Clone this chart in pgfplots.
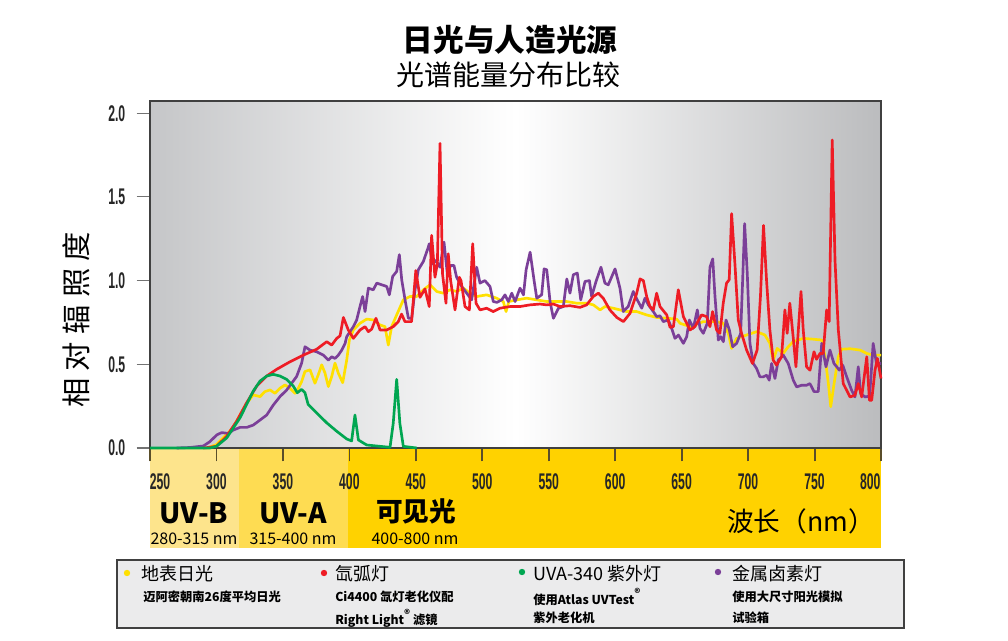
\documentclass[border=0pt]{standalone}
\usepackage{graphicx}
\usepackage{pgfplots}
\pgfplotsset{compat=1.18}
\usepackage{fontspec}
\setmainfont{Noto Sans CJK SC}
\newfontfamily\numfont{Liberation Sans}

\definecolor{bgL}{HTML}{C5C6C8}
\definecolor{bgR}{HTML}{BBBCBE}
\definecolor{uvb}{HTML}{FDE48C}
\definecolor{uva}{HTML}{FEDC52}
\definecolor{vis}{HTML}{FFD200}
\definecolor{legbg}{HTML}{EBEBEC}
\definecolor{cY}{HTML}{FFE000}
\definecolor{cR}{HTML}{EE1C25}
\definecolor{cG}{HTML}{00A651}
\definecolor{cP}{HTML}{7B3F98}
\definecolor{tickc}{HTML}{5A4E2A}

% condensed tick numbers
\DeclareRobustCommand{\sn}[1]{\scalebox{0.54}[1]{\numfont\bfseries\fontsize{17}{17}\selectfont #1}}
\newcommand{\reg}{\raisebox{0.5em}{\fontsize{8.5}{9}\selectfont ®}}

\begin{document}
\begin{tikzpicture}
\useasboundingbox (0,0) rectangle (756pt,480pt);
% everything outside the axis in pixel units, y down
\begin{scope}[x=0.75pt, y=-0.75pt, yshift=480pt]
  \shade[left color=bgL, right color=bgR, middle color=white] (150,101) rectangle (881,448);
  \fill[uvb] (150,448) rectangle (239,548);
  \fill[uva] (239,448) rectangle (348,548);
  \fill[vis] (348,448) rectangle (881,548);
  % tick marks hanging into the yellow band
  \foreach \t in {216.5,283,349.5,416,482.5,549,615.5,682,748.5,815,881}
    \draw[tickc, line width=1.3pt] (\t,448) -- (\t,461);

  \node[font=\bfseries\fontsize{23}{23}\selectfont] at (510,40) {日光与人造光源};
  \node[font=\fontsize{21}{21}\selectfont] at (508,75) {光谱能量分布比较};
  \node[rotate=90, font=\fontsize{22}{22}\selectfont] at (76,320)
    {相\hspace{0.25em}对\hspace{0.25em}辐\hspace{0.25em}照\hspace{0.25em}度};

  \node[font=\bfseries\fontsize{21}{21}\selectfont] at (194,513) {UV-B};
  \node[font=\bfseries\fontsize{21}{21}\selectfont] at (293,513) {UV-A};
  \node[font=\bfseries\fontsize{20}{20}\selectfont] at (416,511) {可见光};
  \node[font=\fontsize{12}{12}\selectfont] at (194,539) {280-315 nm};
  \node[font=\fontsize{12}{12}\selectfont] at (293,539) {315-400 nm};
  \node[font=\fontsize{12}{12}\selectfont] at (415,539) {400-800 nm};
  \node[font=\fontsize{20}{20}\selectfont] at (801,521) {波长（nm）};

  % legend
  \draw[draw=black!75, line width=1.4pt, fill=legbg] (117,560) rectangle (904,628);
  \fill[cY] (127,573) circle (2.4pt);
  \fill[cR] (324,573) circle (2.4pt);
  \fill[cG] (522,572) circle (2.4pt);
  \fill[cP] (718,572) circle (2.4pt);
  \begin{scope}[every node/.style={anchor=west, inner sep=0pt}]
    \node[font=\fontsize{13.5}{14}\selectfont] at (141,574) {地表日光};
    \node[font=\bfseries\fontsize{9.2}{10}\selectfont] at (143,597) {迈阿密朝南26度平均日光};
    \node[font=\fontsize{13.5}{14}\selectfont] at (335,574) {氙弧灯};
    \node[font=\bfseries\fontsize{9.2}{10}\selectfont] at (335,597) {Ci4400 氙灯老化仪配};
    \node[font=\bfseries\fontsize{9.2}{10}\selectfont] at (335,618) {Right Light\reg{} 滤镜};
    \node[font=\fontsize{13.5}{14}\selectfont] at (533,574) {UVA-340 紫外灯};
    \node[font=\bfseries\fontsize{9.2}{10}\selectfont] at (533,597) {使用Atlas UVTest\reg};
    \node[font=\bfseries\fontsize{9.2}{10}\selectfont] at (533,618) {紫外老化机};
    \node[font=\fontsize{13.5}{14}\selectfont] at (732,574) {金属卤素灯};
    \node[font=\bfseries\fontsize{9.2}{10}\selectfont] at (732,597) {使用大尺寸阳光模拟};
    \node[font=\bfseries\fontsize{9.2}{10}\selectfont] at (732,618) {试验箱};
  \end{scope}
\end{scope}

\begin{axis}[
    at={(112.5pt,144pt)}, anchor=south west,
    scale only axis, width=548.25pt, height=260.25pt,
    xmin=250, xmax=800, ymin=0, ymax=2.073,
    clip=false,
    axis line style={draw=black!75, line width=0.8pt},
    tick pos=left, tick align=outside, major tick length=10pt,
    xtick={250,300,...,800},
    xticklabels={\hspace*{15pt}\sn{250},\sn{300},\sn{350},\sn{400},\sn{450},\sn{500},\sn{550},\sn{600},\sn{650},\sn{700},\sn{750},\sn{800}\hspace*{16pt}},
    ytick={0,0.5,1,1.5,2},
    yticklabels={\sn{0.0},\sn{0.5},\sn{1.0},\sn{1.5},\sn{2.0}},
    xtick style={draw=tickc, line width=1.2pt},
    ytick style={draw=black!55, line width=0.8pt},
    xticklabel style={yshift=-6pt, text=black!85},
    yticklabel style={xshift=-5pt, text=black!85},
    every axis plot/.append style={line width=2pt, line join=round},
]
% daylight
\addplot[cY] coordinates {
(293,0)(300,0.02)(305,0.06)(310,0.10)(313,0.13)(317.7,0.197)(322.7,0.267)(327.7,0.317)
(332.8,0.307)(336.5,0.337)(340.3,0.347)(344,0.327)(347.8,0.357)(351.6,0.377)(355.3,0.357)
(359.1,0.327)(361.6,0.357)(364.1,0.397)(366.6,0.457)(370.4,0.467)(374.1,0.387)(376.6,0.437)
(379.2,0.497)(381.7,0.447)(384.2,0.367)(386.7,0.427)(389.2,0.507)(391.7,0.447)(395,0.39)
(398,0.525)(400,0.645)(403,0.705)(408,0.745)(413,0.77)(418,0.765)(423.1,0.735)(426.8,0.725)
(429.3,0.615)(431.8,0.725)(435.6,0.795)(440.6,0.885)(445.6,0.905)(450.7,0.905)(455.7,0.945)
(460.7,0.975)(465.7,0.935)(470.7,0.925)(475.7,0.945)(480.8,0.935)(485.8,0.955)(490.8,0.925)
(495.8,0.905)(503.3,0.915)(510.8,0.895)(515.8,0.875)(517.9,0.815)(520,0.875)(525.9,0.885)
(533.4,0.895)(541,0.885)(548.5,0.875)(556,0.875)(563.5,0.875)(571.1,0.865)(578.6,0.865)
(583.6,0.855)(588.6,0.825)(592.3,0.845)(598.6,0.835)(603.6,0.825)(608.7,0.815)(616.2,0.815)
(623.7,0.795)(631.2,0.78)(638.8,0.775)(646.3,0.77)(648.8,0.745)(656.3,0.725)(666.3,0.755)
(676.3,0.755)(681.3,0.745)(685.1,0.685)(687.6,0.595)(691.4,0.655)(698.9,0.675)(706.4,0.695)
(712.7,0.675)(716.4,0.625)(718.9,0.525)(721.9,0.595)(726.4,0.565)(730.2,0.605)(733.9,0.635)
(741.5,0.655)(749,0.65)(755.4,0.645)(757.9,0.545)(760.4,0.385)(762.2,0.247)(764.7,0.385)
(767.9,0.545)(770.4,0.59)(776.7,0.593)(784.2,0.585)(789.2,0.565)(794.2,0.555)(800,0.555)
};
% metal halide
\addplot[cP] coordinates {
(270,0)(280,0.003)(290.1,0.012)(295.1,0.038)(300.2,0.078)(303.9,0.092)(308.9,0.087)
(312.6,0.107)(317.7,0.123)(322.7,0.123)(327.7,0.137)(332.8,0.167)(337.8,0.197)(342.8,0.257)
(347.8,0.307)(352.9,0.347)(356.6,0.387)(360.3,0.427)(364.1,0.507)(366.6,0.605)(370.4,0.585)
(375.4,0.575)(380.4,0.555)(384.2,0.525)(386.7,0.545)(389.2,0.535)(391.7,0.555)(394.3,0.585)
(396.8,0.625)(398,0.665)(403,0.725)(405.5,0.765)(408,0.845)(410,0.905)(411.8,0.815)
(414.3,0.955)(418,0.945)(420.6,0.985)(424.3,0.975)(428.1,0.965)(430.1,0.915)(432.6,1.025)
(435.6,1.055)(437.6,1.155)(439.4,1.005)(441.9,0.885)(444.4,0.775)(446.9,0.775)(449.4,0.945)
(451.9,1.065)(455.7,1.115)(459.4,1.20)(460.1,1.22)(462.6,1.10)(465.1,1.12)(468.2,1.08)
(471.2,1.23)(473.7,1.04)(476.2,1.09)(478.7,1.09)(480.7,1.02)(484.5,0.965)(488.3,0.925)
(492,0.885)(495.8,1.08)(498.3,0.985)(502,1.00)(505.8,0.965)(508.3,0.875)(511,0.87)
(514.6,0.885)(517.1,0.915)(519.6,0.875)(522.2,0.925)(524.7,0.875)(528.4,0.955)(531,0.915)
(533,1.065)(536,1.17)(539,1.00)(541,0.895)(544.7,0.915)(546.5,1.07)(548.5,1.065)(551,0.875)
(553.5,0.775)(557.3,0.835)(561,0.845)(563.6,1.01)(566,0.925)(568.5,1.035)(571.5,1.045)
(574.1,0.885)(577.3,0.995)(580.6,1.00)(582.3,0.905)(585.6,0.995)(589.3,1.08)(592.3,0.985)
(594.8,0.975)(599.9,1.07)(603.6,0.955)(606.1,0.815)(609.8,0.845)(613.6,0.935)(616.6,0.885)
(620,0.835)(622.4,0.895)(625,0.855)(628.7,0.815)(631.2,0.785)(633.7,0.79)(636.2,0.755)
(640,0.765)(642.5,0.715)(645,0.655)(647.6,0.675)(651.3,0.625)(653.8,0.665)(655.8,0.765)
(658.8,0.715)(661.8,0.825)(663.8,0.715)(666.3,0.685)(669.3,0.745)(671.3,1.08)(673.4,1.13)
(675.1,0.905)(677.6,0.645)(679.4,0.665)(681.4,0.635)(683.4,0.765)(685.9,0.705)(688.4,0.605)
(691.4,0.625)(694.4,0.685)(695.9,1.00)(697.4,1.34)(699.4,1.04)(701.4,0.625)(703.9,0.505)
(706.4,0.475)(708.9,0.425)(711.4,0.425)(714,0.435)(715.9,0.405)(717.7,0.505)(720.2,0.415)
(722.7,0.525)(726.5,0.555)(730.2,0.505)(734,0.405)(736.5,0.365)(740.3,0.375)(744,0.375)
(746.5,0.385)(749.6,0.337)(752.8,0.337)(755.4,0.625)(758.6,0.485)(761.6,0.585)(764.6,0.505)
(766.7,0.485)(768.6,0.465)(771.2,0.495)(774.2,0.425)(777.9,0.345)(780.4,0.305)(782.9,0.485)
(784.7,0.325)(788,0.305)(791.3,0.31)(792.3,0.405)(794.1,0.625)(796.6,0.505)(800,0.505)
};
% xenon arc
\addplot[cR] coordinates {
(290,0)(292.6,0.002)(300,0.01)(307.7,0.07)(315.2,0.16)(322.7,0.27)(330.3,0.37)(337.8,0.43)
(345.3,0.47)(355.3,0.515)(365.4,0.555)(375.4,0.59)(380.4,0.62)(383,0.635)(386.7,0.615)
(390.5,0.655)(393,0.67)(395.5,0.78)(399.2,0.705)(403,0.655)(408,0.705)(411.8,0.725)
(414.3,0.695)(416.8,0.71)(420,0.775)(423.1,0.705)(428.1,0.705)(433,0.725)(436.8,0.755)
(439.3,0.80)(441.8,0.755)(446.8,0.755)(450,1.06)(453.1,0.90)(456.9,0.95)(460.1,0.845)
(461.9,1.27)(464.4,1.02)(466.2,1.10)(468.2,1.82)(470.1,1.04)(472.7,0.865)(474.4,1.16)
(476.2,1.00)(479.5,0.825)(482.7,1.02)(484,1.0)(487,0.845)(490.3,0.825)(492.8,1.22)
(495.3,0.865)(498.3,0.825)(503.3,0.835)(508.3,0.815)(513.3,0.835)(520.9,0.845)(528.4,0.845)
(535.9,0.855)(543.4,0.86)(548.5,0.855)(553.5,0.86)(558.5,0.845)(566,0.85)(573.5,0.84)
(578.5,0.855)(583.5,0.905)(587.3,0.925)(591,0.895)(596,0.825)(601.2,0.78)(606.2,0.755)
(611.2,0.805)(616.2,0.925)(618.7,1.01)(621.2,1.00)(623.7,0.905)(626.2,0.845)(628.7,0.825)
(631.2,0.925)(633.7,0.845)(638.8,0.795)(641.3,0.72)(643.8,0.725)(647.5,0.945)(651.3,0.785)
(656.3,0.705)(660,0.725)(665,0.795)(668.8,0.785)(671.3,0.725)(673.3,0.815)(676.3,0.705)
(678.8,0.685)(681.3,0.865)(683.8,0.985)(685.8,1.005)(687.6,1.40)(690.1,1.10)(692.6,0.765)
(695.1,0.685)(698.9,0.585)(703.3,0.505)(706.8,0.585)(709.3,0.905)(711.6,1.33)(713.9,1.00)
(716.4,0.705)(718.9,0.525)(721.4,0.495)(725.2,0.545)(727.7,0.825)(729.4,0.685)(731.4,0.865)
(733.9,0.665)(736,0.485)(737.8,0.705)(739.8,0.935)(741.5,0.705)(744,0.485)(746.6,0.465)
(749.6,0.575)(751.5,0.53)(754.1,0.565)(756.5,0.565)(759.1,0.825)(761,0.755)(763.3,1.84)
(765.4,1.12)(767.9,0.705)(771.6,0.385)(776.7,0.305)(780.4,0.315)(782.9,0.385)(785.5,0.305)
(788,0.465)(789.3,0.545)(791.3,0.285)(793,0.285)(795.5,0.465)(797.3,0.535)(800,0.415)
};
% UVA-340
\addplot[cG] coordinates {
(250,0)(295,0)(300,0.01)(307.7,0.06)(312.7,0.12)(317.7,0.18)(322.7,0.26)(327.7,0.34)
(332.8,0.40)(337.8,0.43)(342.8,0.44)(347.8,0.43)(352.8,0.41)(357.8,0.37)(360.8,0.33)
(364,0.35)(366.6,0.33)(369,0.26)(375.4,0.21)(383,0.15)(390.5,0.10)(398,0.054)(401.7,0.042)
(404.2,0.197)(406.8,0.048)(413,0.018)(430.6,0.004)(433,0.147)(435.6,0.41)(438,0.147)
(440.6,0.01)(450.7,0)
};
\end{axis}
\end{tikzpicture}
\end{document}
